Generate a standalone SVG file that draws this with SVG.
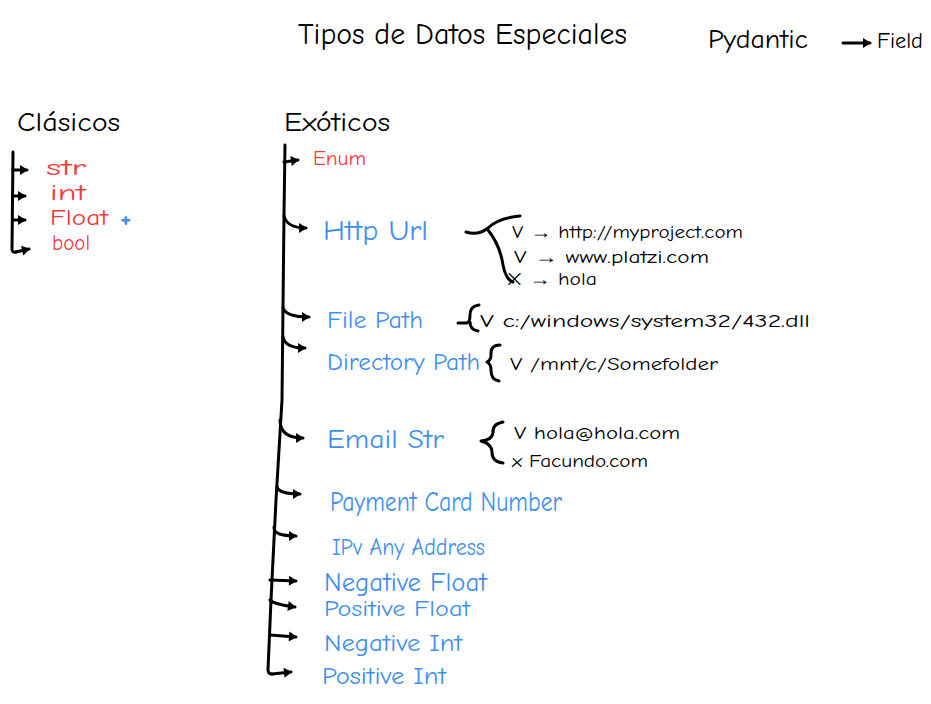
<svg xmlns="http://www.w3.org/2000/svg" width="931" height="704" viewBox="0 0 931 704">
<defs>
<marker id="ah" markerUnits="userSpaceOnUse" markerWidth="10" markerHeight="12" refX="8" refY="6" orient="auto"><path d="M1,1 L9,6 L1,11 Z" fill="#000"/></marker>
<style>
text{font-family:"Comic Neue","Liberation Sans","DejaVu Sans",sans-serif;}
.k{fill:#000}
.r{fill:#f03c3c}
.b{fill:#3f8ff0}
.ln{fill:none;stroke:#000;stroke-width:3;stroke-linecap:round;stroke-linejoin:round}
.br{marker-end:url(#ah)}
</style>
</defs>
<rect width="931" height="704" fill="#fff"/>
<g id="title"><text class="k" x="298" y="44" font-size="30" textLength="329" lengthAdjust="spacingAndGlyphs">Tipos de Datos Especiales</text></g>
<g id="pydantic"><text class="k" x="708" y="48" font-size="26" textLength="100" lengthAdjust="spacingAndGlyphs">Pydantic</text></g>
<g id="field"><text class="k" x="877" y="48" font-size="22" textLength="46" lengthAdjust="spacingAndGlyphs">Field</text></g>
<g id="clasicos"><text class="k" x="17" y="131" font-size="26" textLength="103" lengthAdjust="spacingAndGlyphs">Clásicos</text></g>
<g id="exoticos"><text class="k" x="284" y="131" font-size="26" textLength="106" lengthAdjust="spacingAndGlyphs">Exóticos</text></g>
<g id="str"><text class="r" x="46" y="175" font-size="22" textLength="40" lengthAdjust="spacingAndGlyphs">str</text></g>
<g id="int"><text class="r" x="50" y="200" font-size="22" textLength="36" lengthAdjust="spacingAndGlyphs">int</text></g>
<g id="float"><text class="r" x="50" y="225" font-size="22" textLength="58" lengthAdjust="spacingAndGlyphs">Float</text><text class="b" x="120" y="227" font-size="26" font-weight="bold">+</text></g>
<g id="bool"><text class="r" x="52" y="250" font-size="22" textLength="38" lengthAdjust="spacingAndGlyphs">bool</text></g>
<g id="enum"><text class="r" x="313" y="165" font-size="21" textLength="53" lengthAdjust="spacingAndGlyphs">Enum</text></g>
<g id="httpurl"><text class="b" x="323" y="240" font-size="28" textLength="105" lengthAdjust="spacingAndGlyphs">Http Url</text></g>
<g id="filepath"><text class="b" x="327" y="328" font-size="24" textLength="96" lengthAdjust="spacingAndGlyphs">File Path</text></g>
<g id="directorypath"><text class="b" x="327" y="370" font-size="24" textLength="153" lengthAdjust="spacingAndGlyphs">Directory Path</text></g>
<g id="emailstr"><text class="b" x="327" y="448" font-size="26" textLength="117" lengthAdjust="spacingAndGlyphs">Email Str</text></g>
<g id="paymentcard"><text class="b" x="330" y="511" font-size="28" textLength="232" lengthAdjust="spacingAndGlyphs">Payment Card Number</text></g>
<g id="ipvany"><text class="b" x="332" y="555" font-size="24" textLength="153" lengthAdjust="spacingAndGlyphs">IPv Any Address</text></g>
<g id="negfloat"><text class="b" x="324" y="591" font-size="26" textLength="163" lengthAdjust="spacingAndGlyphs">Negative Float</text></g>
<g id="posfloat"><text class="b" x="324" y="616" font-size="22" textLength="146" lengthAdjust="spacingAndGlyphs">Positive Float</text></g>
<g id="negint"><text class="b" x="324" y="651" font-size="24" textLength="138" lengthAdjust="spacingAndGlyphs">Negative Int</text></g>
<g id="posint"><text class="b" x="322" y="684" font-size="24" textLength="124" lengthAdjust="spacingAndGlyphs">Positive Int</text></g>
<g id="url-examples">
<text class="k" x="512" y="238" font-size="18" textLength="231" lengthAdjust="spacingAndGlyphs">V → http://myproject.com</text>
<text class="k" x="514" y="263" font-size="18" textLength="195" lengthAdjust="spacingAndGlyphs">V → www.platzi.com</text>
<text class="k" x="507" y="285" font-size="18" textLength="90" lengthAdjust="spacingAndGlyphs">X → hola</text>
</g>
<g id="file-example"><text class="k" x="480" y="327" font-size="18" textLength="330" lengthAdjust="spacingAndGlyphs">V c:/windows/system32/432.dll</text></g>
<g id="dir-example"><text class="k" x="510" y="370" font-size="18" textLength="208" lengthAdjust="spacingAndGlyphs">V /mnt/c/Somefolder</text></g>
<g id="email-examples">
<text class="k" x="514" y="439" font-size="18" textLength="166" lengthAdjust="spacingAndGlyphs">V hola@hola.com</text>
<text class="k" x="512" y="467" font-size="18" textLength="136" lengthAdjust="spacingAndGlyphs">x Facundo.com</text>
</g>
<g id="connectors">
<path class="ln br" d="M843,43 L870,43"/>
<path class="ln" d="M13,152 L12,249 Q12,253 16,252"/>
<path class="ln br" d="M16,252 L29,249"/>
<path class="ln br" d="M13,170 L27,170"/>
<path class="ln br" d="M13,196 L25,196"/>
<path class="ln br" d="M13,220 L25,220"/>
<path class="ln" d="M285,145 L284,215 Q283,300 282,400 L276,500 L271,600 L268,670 Q268,674 272,674"/>
<path class="ln br" d="M272,674 L291,672"/>
<path class="ln br" d="M284,162 L298,160"/>
<path class="ln br" d="M284,216 Q287,228 306,228"/>
<path class="ln br" d="M283,308 Q286,317 309,317"/>
<path class="ln br" d="M283,337 Q285,348 305,348"/>
<path class="ln br" d="M280,420 Q280,438 303,438"/>
<path class="ln br" d="M277,487 Q279,494 300,494"/>
<path class="ln br" d="M274,527 Q273,536 296,536"/>
<path class="ln br" d="M270,580 L296,581"/>
<path class="ln br" d="M270,600 Q273,604 295,607"/>
<path class="ln br" d="M270,635 L296,637"/>
<path class="ln" d="M466,232 Q478,236 488,228 Q498,218 520,216 M488,230 Q500,245 503,265 Q506,280 513,282"/>
<path class="ln" d="M458,323 L467,323 Q470,322 470,315 Q470,306 479,305 M470,322 Q470,330 478,331"/>
<path class="ln" d="M500,345 Q490,345 491,355 Q491,360 487,362 Q491,364 491,370 Q491,380 499,381"/>
<path class="ln" d="M503,422 Q492,424 493,433 Q492,440 481,441 Q492,444 492,452 Q492,462 503,463"/>
</g>
</svg>
